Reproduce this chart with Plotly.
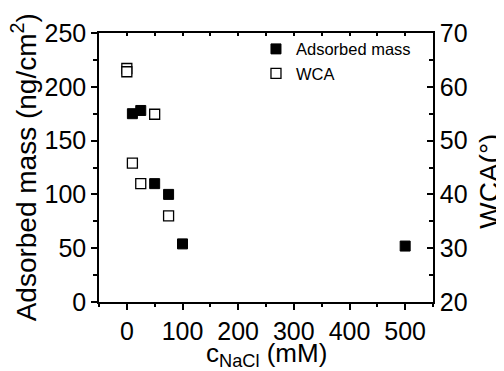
import plotly.graph_objects as go

# Data
mass_x = [10, 25, 50, 75, 100, 500]
mass_y = [175, 178, 110, 100, 54, 52]
wca_x = [0, 0, 10, 25, 50, 75]
wca_y = [63.4, 62.8, 45.8, 42.0, 54.9, 36.0]
x_ticks = [0, 100, 200, 300, 400, 500]
y1_ticks = [0, 50, 100, 150, 200, 250]
y2_ticks = [20, 30, 40, 50, 60, 70]

FONT = "Liberation Sans, Arial, sans-serif"
TICK = 25

fig = go.Figure()
fig.add_trace(go.Scatter(
    x=mass_x, y=mass_y, mode="markers", name="Adsorbed mass",
    marker=dict(symbol="square", size=10, color="black", line=dict(color="black", width=1)),
    yaxis="y", xaxis="x"))
fig.add_trace(go.Scatter(
    x=wca_x, y=wca_y, mode="markers", name="WCA",
    marker=dict(symbol="square", size=10, color="white", line=dict(color="black", width=1.3)),
    yaxis="y2", xaxis="x"))
fig.add_trace(go.Scatter(x=[None], y=[None], xaxis="x2", yaxis="y", showlegend=False, hoverinfo="skip"))

axis_common = dict(showline=True, linecolor="black", linewidth=1.5, tickwidth=1.5, tickcolor="black",
                   showgrid=False, zeroline=False, automargin=False,
                   tickfont=dict(size=TICK, family=FONT, color="black"))

fig.update_layout(
    width=504, height=371,
    margin=dict(l=91, r=79, t=25, b=77, autoexpand=False),
    paper_bgcolor="white", plot_bgcolor="white",
    font=dict(family=FONT, color="black", size=TICK),
    showlegend=True,
    legend=dict(x=0.47, y=1.005, xanchor="left", yanchor="top",
                font=dict(size=16.5, family=FONT), bgcolor="rgba(0,0,0,0)",
                itemsizing="trace", tracegroupgap=0),
    xaxis=dict(range=[-50, 550], tickvals=x_ticks, ticks="outside", ticklen=6,
               minor=dict(tickvals=[-50, 50, 150, 250, 350, 450, 550], ticks="outside", ticklen=3,
                          tickwidth=1.5, tickcolor="black"),
               **axis_common),
    xaxis2=dict(range=[-50, 550], overlaying="x", side="top", matches="x",
                tickvals=[-50, 0, 50, 100, 150, 200, 250, 300, 350, 400, 450, 500, 550],
                showticklabels=False, ticks="inside", ticklen=3, **axis_common),
    yaxis=dict(range=[0, 250], tickvals=y1_ticks, ticks="outside", ticklen=6,
               minor=dict(tickvals=[25, 75, 125, 175, 225], ticks="outside", ticklen=4,
                          tickwidth=1.5, tickcolor="black"),
               **axis_common),
    yaxis2=dict(range=[20, 70], tickvals=y2_ticks, overlaying="y", side="right",
                ticks="inside", ticklen=6,
                minor=dict(tickvals=[25, 35, 45, 55, 65], ticks="inside", ticklen=4,
                           tickwidth=1.5, tickcolor="black"),
                **axis_common),
    annotations=[
        dict(text="Adsorbed mass (ng/cm<sup>2</sup>)", xref="paper", yref="paper",
             x=-0.225, y=0.5, xanchor="center", yanchor="middle", textangle=-90,
             showarrow=False, font=dict(size=28, family=FONT, color="black")),
        dict(text="WCA(°)", xref="paper", yref="paper",
             x=1.17, y=0.45, xanchor="center", yanchor="middle", textangle=-90,
             showarrow=False, font=dict(size=28, family=FONT, color="black")),
        dict(text="c<sub>NaCl</sub> (mM)", xref="paper", yref="paper",
             x=0.5, y=-0.197, xanchor="center", yanchor="middle",
             showarrow=False, font=dict(size=26, family=FONT, color="black")),
    ],
)

fig.write_html("out.html")
